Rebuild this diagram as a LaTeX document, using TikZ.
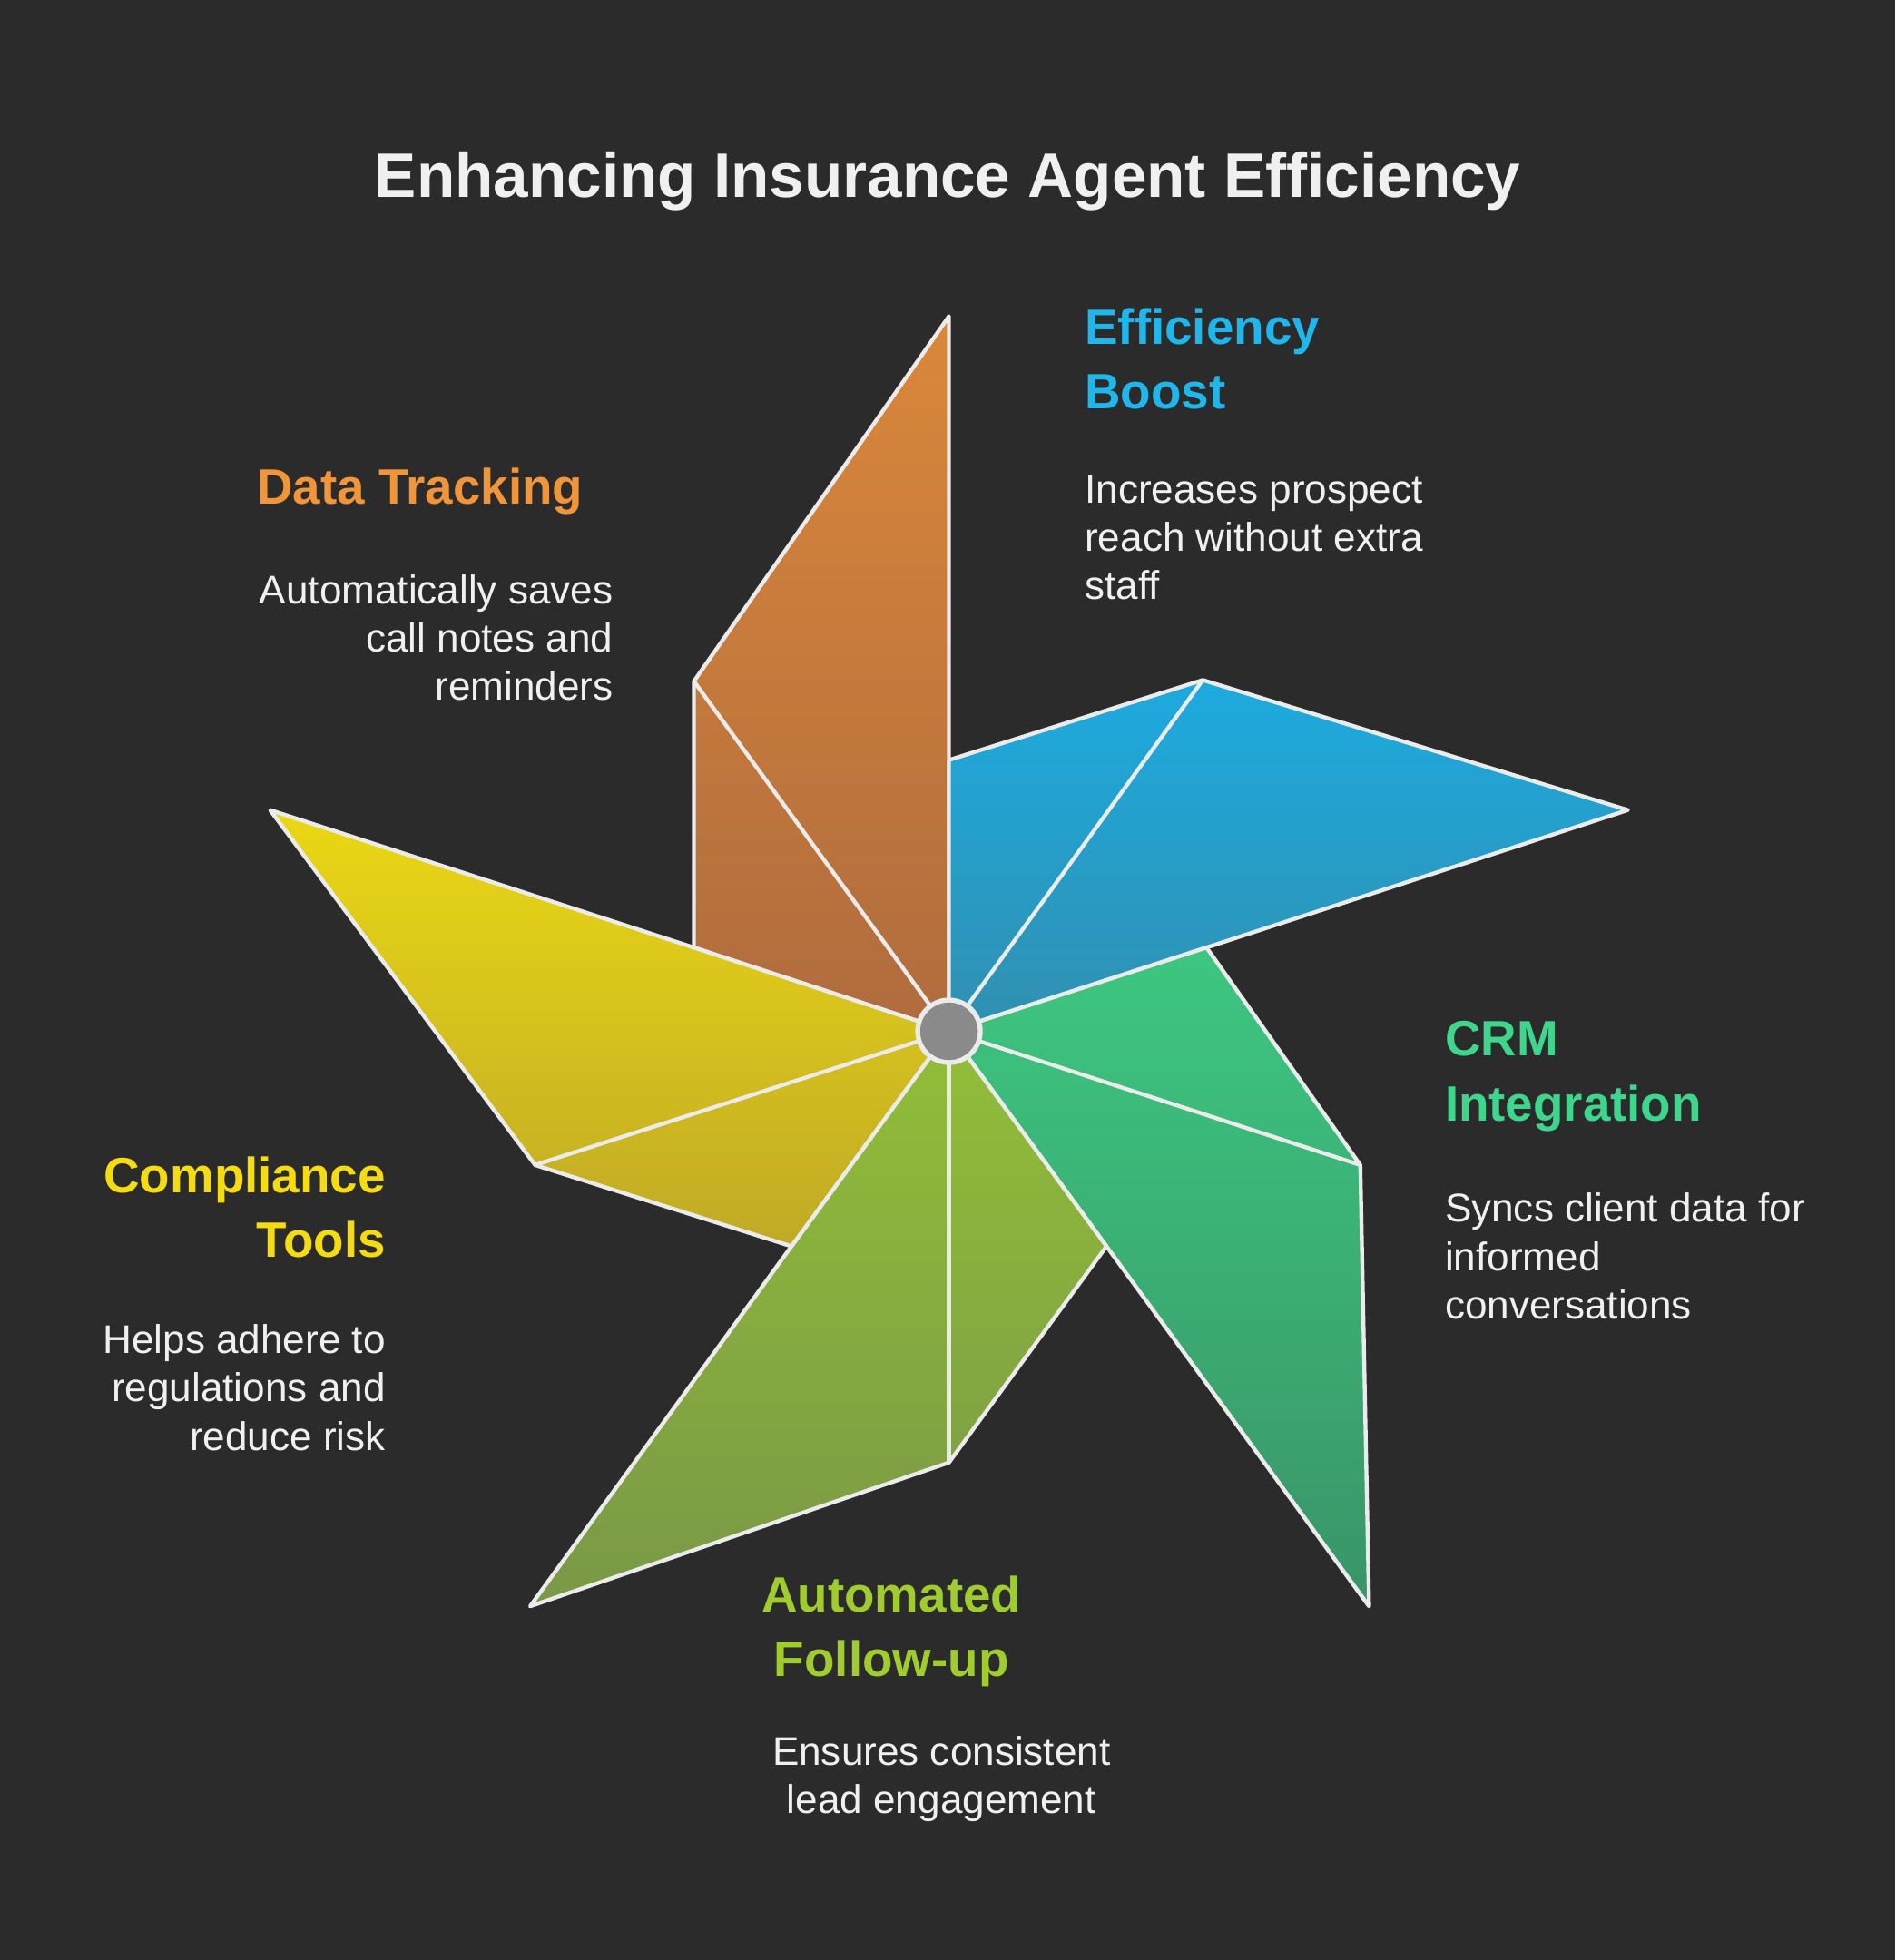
\documentclass[tikz,border=0pt]{standalone}
\usepackage{fontspec}
\setmainfont{Liberation Sans}
\begin{document}
\begin{tikzpicture}[x=0.01cm,y=-0.01cm,
  blade/.style={draw=white!92!black,line width=0.9pt,line join=round},
  inner/.style={draw=white!92!black,line width=0.9pt},
  head/.style={font=\bfseries\fontsize{11.3}{14.7}\selectfont,inner sep=0pt},
  body/.style={font=\fontsize{9.1}{11}\selectfont,text=white!94!black,inner sep=0pt}]
\fill[fill={rgb,255:red,43;green,43;blue,43}] (0,0) rectangle (1516,1568);
\useasboundingbox (0,0) rectangle (1516,1568);
\definecolor{oT}{HTML}{DA873A}\definecolor{oB}{HTML}{B06C3E}
\definecolor{bT}{HTML}{1DAADF}\definecolor{bB}{HTML}{3090B0}
\definecolor{gT}{HTML}{3CC780}\definecolor{gB}{HTML}{3A9468}
\definecolor{lT}{HTML}{92BE38}\definecolor{lB}{HTML}{7A9846}
\definecolor{yT}{HTML}{EAD814}\definecolor{yB}{HTML}{C0AA26}
\coordinate (c) at (759,825);
% orange
\path[blade,top color=oT,bottom color=oB] (c) -- (759,253) -- (555,545) -- (555,758) -- cycle;
\draw[inner] (c) -- (555,545);
% blue
\path[blade,top color=bT,bottom color=bB] (c) -- (759,608) -- (962,544) -- (1302,648) -- (965,758) -- cycle;
\draw[inner] (c) -- (962,544);
% green
\path[blade,top color=gT,bottom color=gB] (c) -- (965,758) -- (1088,932) -- (1095,1285) -- (885,997) -- cycle;
\draw[inner] (c) -- (1088,932);
% lime
\path[blade,top color=lT,bottom color=lB] (c) -- (885,997) -- (759,1170) -- (424,1285) -- (633,997) -- cycle;
\draw[inner] (c) -- (759,1170);
% yellow
\path[blade,top color=yT,bottom color=yB] (c) -- (633,997) -- (428,932) -- (216,648) -- (555,758) -- cycle;
\draw[inner] (c) -- (428,932);
\node[circle,minimum size=0.5cm,draw=white!92!black,line width=1.1pt,fill={rgb,255:red,138;green,138;blue,138},inner sep=0pt] (hub) at (c) {};
% title
\node[font=\bfseries\fontsize{14.3}{16}\selectfont,text=white!94!black] (title) at (758,145) {Enhancing Insurance Agent Efficiency};
% texts
\node[head,text={rgb,255:red,31;green,182;blue,236},anchor=west,align=left] (h1) at (867,287) {Efficiency\\Boost};
\node[body,anchor=west,align=left] (b1) at (867,430) {Increases prospect\\reach without extra\\staff};
\node[head,text={rgb,255:red,240;green,149;blue,58},anchor=east,align=right] (h2) at (467,393) {Data Tracking};
\node[body,anchor=east,align=right] (b2) at (491,510) {Automatically saves\\call notes and\\reminders};
\node[head,text={rgb,255:red,61;green,214;blue,140},anchor=west,align=left] (h3) at (1155,861) {CRM\\Integration};
\node[body,anchor=west,align=left] (b3) at (1155,1005) {Syncs client data for\\informed\\conversations};
\node[head,text={rgb,255:red,245;green,220;blue,15},anchor=east,align=right] (h4) at (309,966) {Compliance\\Tools};
\node[body,anchor=east,align=right] (b4) at (309,1110) {Helps adhere to\\regulations and\\reduce risk};
\node[head,text={rgb,255:red,160;green,204;blue,46},align=center] (h5) at (713,1305) {Automated\\Follow-up};
\node[body,align=center] (b5) at (753,1423) {Ensures consistent\\lead engagement};
\end{tikzpicture}
\end{document}
